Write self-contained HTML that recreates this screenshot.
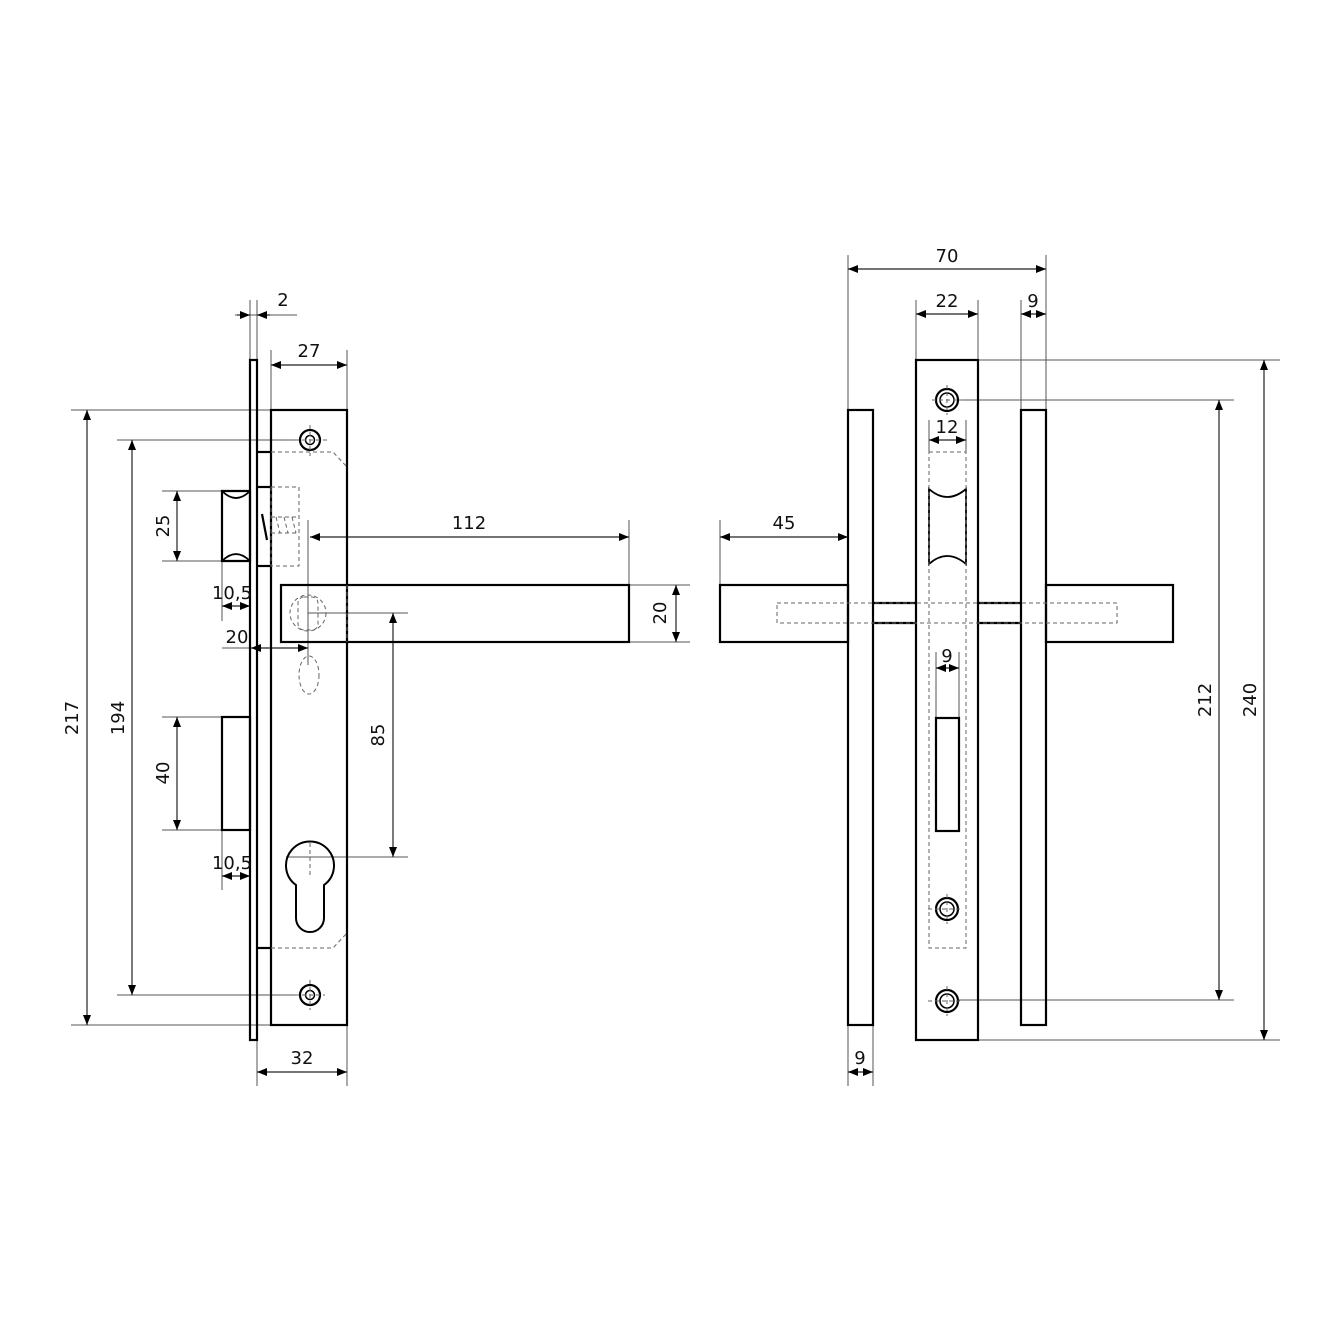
<!DOCTYPE html>
<html><head><meta charset="utf-8"><style>
html,body{margin:0;padding:0;background:#fff;}
svg{display:block;}
text{font-family:"DejaVu Sans","Liberation Sans",sans-serif;font-size:18px;fill:#111;}
</style></head><body>
<svg width="1339" height="1339" viewBox="0 0 1339 1339" xmlns="http://www.w3.org/2000/svg">
<defs>
<marker id="a" viewBox="0 0 10 10" refX="10" refY="5" markerWidth="10" markerHeight="10" markerUnits="userSpaceOnUse" orient="auto-start-reverse"><path d="M0,1 L10,5 L0,9 z" fill="#000"/></marker>
</defs>
<g stroke="#000" fill="none">
<g stroke="#555" stroke-width="1">
<line x1="250" y1="300" x2="250" y2="360"/><line x1="257" y1="300" x2="257" y2="360"/>
<line x1="235" y1="315" x2="297" y2="315"/>
<line x1="271" y1="350" x2="271" y2="410"/><line x1="347" y1="350" x2="347" y2="410"/>
<line x1="71" y1="410" x2="271" y2="410"/><line x1="71" y1="1025" x2="271" y2="1025"/>
<line x1="117" y1="440" x2="300" y2="440"/><line x1="117" y1="995" x2="300" y2="995"/>
<line x1="162" y1="491" x2="222" y2="491"/><line x1="162" y1="561" x2="222" y2="561"/>
<line x1="222" y1="561" x2="222" y2="621"/>
<line x1="222" y1="648" x2="251" y2="648"/>
<line x1="308" y1="520" x2="308" y2="665"/>
<line x1="629" y1="520" x2="629" y2="585"/>
<line x1="629" y1="585" x2="690" y2="585"/><line x1="629" y1="642" x2="690" y2="642"/>
<line x1="308" y1="613" x2="408" y2="613"/><line x1="286" y1="857" x2="408" y2="857"/>
<line x1="162" y1="717" x2="222" y2="717"/><line x1="162" y1="830" x2="222" y2="830"/>
<line x1="222" y1="830" x2="222" y2="890"/>
<line x1="257" y1="1040" x2="257" y2="1086"/><line x1="347" y1="1025" x2="347" y2="1086"/>
<line x1="848" y1="255" x2="848" y2="410"/><line x1="1046" y1="255" x2="1046" y2="410"/>
<line x1="916" y1="300" x2="916" y2="360"/><line x1="978" y1="300" x2="978" y2="360"/>
<line x1="1021" y1="300" x2="1021" y2="410"/>
<line x1="720" y1="520" x2="720" y2="585"/>
<line x1="929" y1="420" x2="929" y2="452"/><line x1="966" y1="420" x2="966" y2="452"/>
<line x1="936" y1="652" x2="936" y2="718"/><line x1="959" y1="652" x2="959" y2="718"/>
<line x1="848" y1="1025" x2="848" y2="1086"/><line x1="873" y1="1025" x2="873" y2="1086"/>
<line x1="978" y1="360" x2="1280" y2="360"/><line x1="978" y1="1040" x2="1280" y2="1040"/>
<line x1="958" y1="400" x2="1234" y2="400"/><line x1="958" y1="1000" x2="1234" y2="1000"/>
</g>
<g stroke="#222" stroke-width="1.2" marker-start="url(#a)" marker-end="url(#a)">
<line x1="271" y1="365" x2="347" y2="365"/>
<line x1="87" y1="410" x2="87" y2="1025"/>
<line x1="132" y1="440" x2="132" y2="995"/>
<line x1="177" y1="491" x2="177" y2="561"/>
<line x1="222" y1="606" x2="250" y2="606"/>
<line x1="251" y1="648" x2="308" y2="648"/>
<line x1="310" y1="537" x2="629" y2="537"/>
<line x1="676" y1="585" x2="676" y2="642"/>
<line x1="393" y1="613" x2="393" y2="857"/>
<line x1="177" y1="717" x2="177" y2="830"/>
<line x1="222" y1="876" x2="250" y2="876"/>
<line x1="257" y1="1072" x2="347" y2="1072"/>
<line x1="848" y1="269" x2="1046" y2="269"/>
<line x1="916" y1="314" x2="978" y2="314"/>
<line x1="1021" y1="314" x2="1046" y2="314"/>
<line x1="929" y1="440" x2="966" y2="440"/>
<line x1="936" y1="668" x2="959" y2="668"/>
<line x1="720" y1="537" x2="848" y2="537"/>
<line x1="848" y1="1072" x2="873" y2="1072"/>
<line x1="1219" y1="400" x2="1219" y2="1000"/>
<line x1="1264" y1="360" x2="1264" y2="1040"/>
</g>
<g stroke="#222" stroke-width="1.2">
<line x1="237" y1="315" x2="250" y2="315" marker-end="url(#a)"/>
<line x1="270" y1="315" x2="257" y2="315" marker-end="url(#a)"/>
</g>
<g stroke-width="2.2">
<rect x="250" y="360" width="7" height="680"/>
<rect x="271" y="410" width="76" height="615"/>
<line x1="257" y1="452" x2="271" y2="452"/><line x1="257" y1="487" x2="271" y2="487"/>
<line x1="257" y1="566" x2="271" y2="566"/><line x1="257" y1="948" x2="271" y2="948"/>
<path d="M222,491 H250 V561 H222 Z"/>
<path d="M222,491 Q236,505 250,491" stroke-width="1.8"/>
<path d="M222,561 Q236,547 250,561" stroke-width="1.8"/>
<rect x="222" y="717" width="28" height="113"/>
<line x1="262" y1="514" x2="267" y2="540"/>
<rect x="281" y="585" width="348" height="57"/>
<path d="M296,885 A24,24 0 1 1 324,885 V918 A14,14 0 0 1 296,918 Z" stroke-width="2"/>
<circle cx="310" cy="440" r="10"/><circle cx="310" cy="440" r="4.5" stroke-width="1.5"/>
<circle cx="310" cy="995" r="10"/><circle cx="310" cy="995" r="4.5" stroke-width="1.5"/>
</g>
<g stroke="#666" stroke-width="1" stroke-dasharray="4,3">
<path d="M271,452 H333 L347,467"/><path d="M271,948 H333 L347,933"/>
<rect x="271" y="487" width="28" height="79"/>
<path d="M271,517 H298 M271,533 H298 M276,517 l4,16 M284,517 l4,16 M292,517 l4,16"/>
<line x1="347" y1="585" x2="347" y2="642"/>
<circle cx="308" cy="613" r="18"/>
<rect x="298" y="597" width="20" height="33" rx="6"/>
<ellipse cx="309" cy="675" rx="10" ry="19"/>
<line x1="310" y1="843" x2="310" y2="875"/>
<line x1="310" y1="425" x2="310" y2="456"/><line x1="295" y1="440" x2="330" y2="440"/>
<line x1="310" y1="980" x2="310" y2="1010"/><line x1="295" y1="995" x2="325" y2="995"/>
</g>
<g stroke-width="2.2">
<rect x="848" y="410" width="25" height="615"/>
<rect x="1021" y="410" width="25" height="615"/>
<rect x="916" y="360" width="62" height="680"/>
<rect x="720" y="585" width="128" height="57"/>
<rect x="1046" y="585" width="127" height="57"/>
<path d="M873,603 H916 M873,623 H916 M978,603 H1021 M978,623 H1021"/>
<path d="M929,489 Q947,505 966,489 V564 Q947,548 929,564 Z" stroke-width="1.8"/>
<rect x="936" y="718" width="23" height="113"/>
<circle cx="947" cy="400" r="11"/><circle cx="947" cy="400" r="7" stroke-width="1.5"/>
<circle cx="947" cy="909" r="11"/><circle cx="947" cy="909" r="7" stroke-width="1.5"/>
<circle cx="947" cy="1001" r="11"/><circle cx="947" cy="1001" r="7" stroke-width="1.5"/>
</g>
<g stroke="#666" stroke-width="1" stroke-dasharray="4,3">
<rect x="929" y="452" width="37" height="496"/>
<rect x="777" y="603" width="340" height="20"/>
<line x1="947" y1="385" x2="947" y2="415"/><line x1="932" y1="400" x2="962" y2="400"/>
<line x1="947" y1="894" x2="947" y2="924"/><line x1="928" y1="909" x2="962" y2="909"/>
<line x1="947" y1="986" x2="947" y2="1016"/><line x1="928" y1="1001" x2="962" y2="1001"/>
</g>
</g>
<g text-anchor="middle">
<text x="283" y="306">2</text>
<text x="309" y="357">27</text>
<text x="469" y="529">112</text>
<text x="232" y="599">10,5</text>
<text x="237" y="643">20</text>
<text x="232" y="869">10,5</text>
<text x="302" y="1064">32</text>
<text x="947" y="262">70</text>
<text x="947" y="307">22</text>
<text x="1033" y="307">9</text>
<text x="947" y="433">12</text>
<text x="947" y="662">9</text>
<text x="784" y="529">45</text>
<text x="860" y="1064">9</text>
<text transform="translate(78,718) rotate(-90)">217</text>
<text transform="translate(124,718) rotate(-90)">194</text>
<text transform="translate(169,526) rotate(-90)">25</text>
<text transform="translate(169,773) rotate(-90)">40</text>
<text transform="translate(666,613) rotate(-90)">20</text>
<text transform="translate(384,735) rotate(-90)">85</text>
<text transform="translate(1211,700) rotate(-90)">212</text>
<text transform="translate(1256,700) rotate(-90)">240</text>
</g>
</svg>
</body></html>
